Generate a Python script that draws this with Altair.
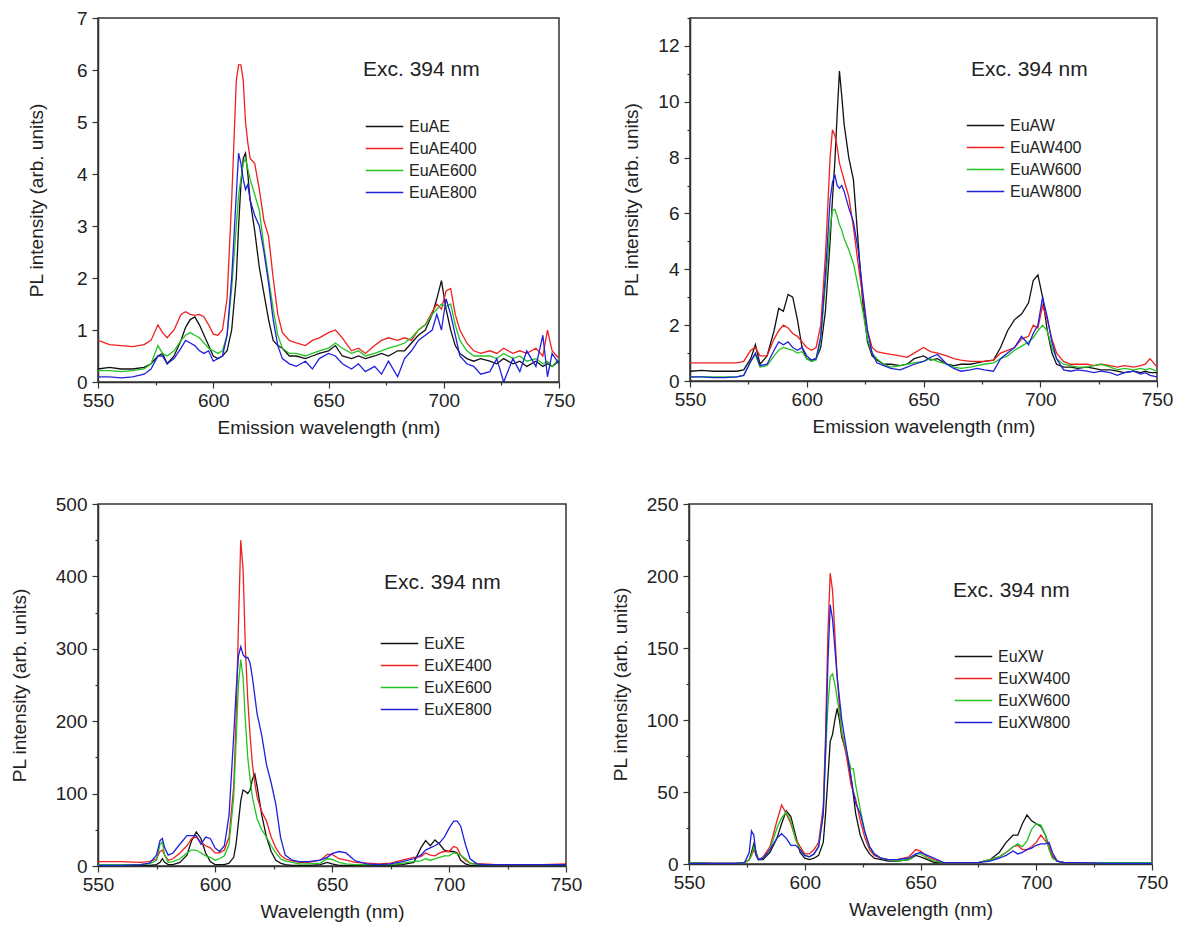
import altair as alt
import pandas as pd

# ---------------- data ----------------
wl_A = [550, 555, 560, 565, 570, 573, 576, 578, 580, 583, 586, 588, 590, 592, 594, 596, 598, 600,
        602, 604, 606, 608, 610, 611, 612, 613, 614, 615, 616, 618, 620, 622, 624, 626, 628, 630,
        633, 636, 640, 643, 646, 650, 653, 656, 660, 663, 666, 670, 673, 676, 680, 683, 686, 689,
        692, 695, 697, 699, 701, 703, 705, 707, 710, 713, 716, 720, 723, 726, 730, 733, 736, 740,
        743, 745, 747, 750]

EuAE = [0.25, 0.28, 0.25, 0.25, 0.28, 0.35, 0.5, 0.55, 0.35, 0.5, 0.8, 1.05, 1.2, 1.25, 1.1, 0.9, 0.7, 0.5,
        0.45, 0.5, 0.6, 1.0, 2.0, 3.0, 3.8, 4.3, 4.4, 4.0, 3.5, 2.9, 2.2, 1.7, 1.2, 0.8, 0.7, 0.65,
        0.5, 0.5, 0.45, 0.5, 0.55, 0.6, 0.7, 0.5, 0.45, 0.5, 0.45, 0.5, 0.55, 0.5, 0.6, 0.6, 0.75, 0.9,
        1.0, 1.3, 1.6, 1.95, 1.4, 1.0, 0.7, 0.55, 0.45, 0.4, 0.45, 0.4, 0.35, 0.45, 0.35, 0.4, 0.3, 0.4,
        0.3, 0.35, 0.3, 0.4]
EuAE400 = [0.8, 0.72, 0.7, 0.68, 0.72, 0.8, 1.1, 0.95, 0.85, 1.0, 1.3, 1.35, 1.3, 1.28, 1.3, 1.25, 1.1, 0.92,
           0.9, 1.0, 1.6, 3.5, 5.8, 6.1, 6.1, 5.8, 5.0, 4.6, 4.3, 4.2, 3.7, 3.1, 2.8, 2.0, 1.3, 0.95,
           0.8, 0.75, 0.7, 0.8, 0.85, 0.95, 1.0, 0.85, 0.6, 0.65, 0.55, 0.7, 0.8, 0.85, 0.8, 0.85, 0.8, 1.0,
           1.1, 1.35, 1.5, 1.4, 1.75, 1.8, 1.3, 1.0, 0.75, 0.6, 0.55, 0.6, 0.55, 0.65, 0.55, 0.6, 0.55, 0.65,
           0.5, 1.0, 0.6, 0.45]
EuAE600 = [0.22, 0.22, 0.2, 0.22, 0.25, 0.35, 0.7, 0.55, 0.5, 0.6, 0.8, 0.9, 0.95, 0.9, 0.85, 0.75, 0.65, 0.6,
           0.55, 0.6, 0.9, 1.8, 3.0, 3.6, 3.9, 4.2, 4.3, 4.1, 3.9, 3.6, 3.3, 2.6, 2.0, 1.4, 0.9, 0.65,
           0.55, 0.55, 0.5, 0.55, 0.6, 0.65, 0.75, 0.65, 0.55, 0.6, 0.5, 0.55, 0.6, 0.65, 0.7, 0.75, 0.85, 1.0,
           1.1, 1.3, 1.4, 1.5, 1.45, 1.5, 1.1, 0.8, 0.6, 0.5, 0.5, 0.5, 0.45, 0.55, 0.45, 0.5, 0.4, 0.45,
           0.35, 0.4, 0.3, 0.45]
EuAE800 = [0.1, 0.1, 0.08, 0.1, 0.15, 0.25, 0.5, 0.5, 0.35, 0.45, 0.65, 0.8, 0.75, 0.7, 0.6, 0.55, 0.6, 0.4,
           0.45, 0.5, 0.9, 2.0, 3.6, 4.4, 4.2, 3.9, 3.7, 3.8, 3.5, 3.2, 3.0, 2.5, 1.9, 1.2, 0.7, 0.45,
           0.35, 0.3, 0.4, 0.25, 0.45, 0.55, 0.5, 0.35, 0.25, 0.35, 0.2, 0.3, 0.15, 0.4, 0.1, 0.45, 0.6, 0.8,
           0.9, 1.0, 1.3, 1.0, 1.6, 1.3, 0.9, 0.5, 0.35, 0.3, 0.15, 0.2, 0.45, 0.0, 0.45, 0.2, 0.6, 0.3,
           0.9, 0.1, 0.55, 0.35]

EuAW = [0.35, 0.38, 0.35, 0.35, 0.35, 0.4, 0.8, 1.3, 0.6, 0.9, 1.8, 2.6, 2.5, 3.1, 3.0, 2.2, 1.2, 0.8,
        0.75, 0.8, 1.2, 2.5, 5.0, 6.5, 7.8, 9.5, 11.1, 10.2, 9.2, 8.0, 7.2, 5.0, 2.8, 1.4, 0.9, 0.75,
        0.6, 0.6, 0.55, 0.6, 0.8, 0.9, 0.75, 0.8, 0.6, 0.55, 0.6, 0.6, 0.65, 0.7, 0.75, 1.2, 1.8, 2.2,
        2.4, 2.8, 3.6, 3.8, 3.0, 1.8, 1.0, 0.6, 0.5, 0.5, 0.45, 0.5, 0.45, 0.4, 0.4, 0.35, 0.3, 0.35,
        0.3, 0.35, 0.3, 0.3]
EuAW400 = [0.65, 0.65, 0.65, 0.65, 0.65, 0.7, 1.1, 1.2, 0.9, 0.9, 1.5, 1.8, 2.0, 1.9, 1.7, 1.6, 1.4, 1.2,
           1.1, 1.2, 2.0, 4.5, 8.0, 9.0, 8.8, 8.4, 7.8, 7.5, 7.2, 6.6, 5.5, 4.2, 3.0, 1.8, 1.2, 1.05,
           1.0, 0.95, 0.9, 0.85, 1.0, 1.2, 1.05, 1.0, 0.9, 0.8, 0.75, 0.7, 0.7, 0.7, 0.75, 1.0, 1.1, 1.2,
           1.5, 1.6, 2.0, 1.9, 2.7, 2.2, 1.5, 1.0, 0.7, 0.6, 0.6, 0.6, 0.55, 0.6, 0.55, 0.5, 0.55, 0.5,
           0.55, 0.6, 0.8, 0.5]
EuAW600 = [0.15, 0.15, 0.15, 0.15, 0.15, 0.2, 0.7, 0.95, 0.5, 0.55, 0.9, 1.1, 1.2, 1.15, 1.1, 1.0, 1.05, 0.8,
           0.7, 0.75, 1.5, 3.5, 5.5, 6.1, 6.15, 5.9, 5.6, 5.4, 5.1, 4.7, 4.2, 3.4, 2.5, 1.5, 1.0, 0.8,
           0.6, 0.5, 0.55, 0.6, 0.65, 0.7, 0.8, 0.7, 0.6, 0.5, 0.45, 0.5, 0.55, 0.6, 0.65, 0.8, 0.9, 1.1,
           1.25, 1.4, 1.55, 1.8, 2.0, 1.8, 1.2, 0.8, 0.6, 0.55, 0.5, 0.5, 0.55, 0.6, 0.5, 0.4, 0.45, 0.4,
           0.45, 0.4, 0.45, 0.35]
EuAW800 = [0.15, 0.15, 0.12, 0.12, 0.15, 0.2, 0.7, 1.0, 0.55, 0.6, 1.1, 1.4, 1.3, 1.4, 1.2, 1.1, 1.2, 0.9,
           0.75, 0.8, 1.6, 3.8, 6.5, 7.1, 7.4, 7.0, 6.9, 7.0, 6.8, 6.2, 5.7, 4.7, 3.2, 1.8, 1.0, 0.65,
           0.55, 0.45, 0.4, 0.5, 0.6, 0.7, 0.85, 0.95, 0.6, 0.45, 0.35, 0.4, 0.45, 0.4, 0.35, 0.8, 1.0, 1.2,
           1.6, 1.3, 1.7, 2.0, 3.0, 2.3, 1.4, 0.8, 0.4, 0.35, 0.4, 0.35, 0.3, 0.35, 0.3, 0.2, 0.3, 0.35,
           0.25, 0.3, 0.2, 0.15]

wl_XE = [550, 560, 568, 572, 575, 576.5, 577.5, 578.5, 580, 582, 585, 588, 590, 592, 594, 596, 598, 600,
         602, 604, 606, 608, 609, 610, 611, 612, 613, 614, 615, 616, 617, 618, 620, 622, 624, 626, 628, 630,
         633, 636, 640, 645, 648, 650, 653, 656, 660, 665, 670, 675, 680, 685, 688, 690, 692, 694, 696, 698,
         700, 702, 703.5, 705, 707, 709, 712, 715, 720, 730, 740, 750]
EuXE = [1, 1, 1, 1, 2, 5, 10, 5, 2, 2, 5, 15, 35, 47, 38, 18, 6, 2,
        2, 2, 4, 12, 30, 60, 90, 105, 103, 100, 105, 120, 127, 110, 70, 40, 20, 8, 4, 2,
        1, 1, 1, 2, 5, 3, 1, 1, 1, 1, 1, 1, 2, 5, 25, 35, 28, 36, 30, 22,
        20, 20, 18, 8, 3, 1, 1, 1, 1, 1, 1, 1]
EuXE400 = [6, 6, 5, 6, 10, 20, 22, 15, 8, 10, 18, 28, 38, 40, 33, 28, 25, 18,
           18, 22, 40, 110, 200, 330, 450, 410, 300, 230, 180, 140, 115, 95, 75, 62, 40, 25, 15, 10,
           7, 5, 5, 8, 16, 16, 10, 8, 5, 4, 3, 4, 8, 12, 13, 18, 15, 14, 18, 20,
           20, 27, 25, 15, 8, 4, 3, 3, 2, 2, 2, 3]
EuXE600 = [2, 2, 2, 3, 8, 30, 33, 15, 5, 6, 10, 18, 22, 22, 18, 14, 12, 8,
           10, 14, 30, 95, 170, 250, 285, 260, 200, 150, 120, 95, 80, 65, 50, 40, 28, 18, 10, 7,
           5, 3, 3, 4, 10, 9, 5, 3, 2, 2, 2, 2, 4, 6, 7, 10, 8, 10, 12, 14,
           14, 18, 17, 15, 10, 4, 2, 2, 2, 2, 2, 2]
EuXE800 = [1, 1, 2, 4, 15, 35, 38, 25, 15, 18, 30, 42, 42, 42, 30, 40, 38, 25,
           20, 28, 70, 180, 240, 290, 303, 292, 288, 288, 280, 260, 235, 210, 180, 140, 115, 85, 40, 15,
           8, 6, 6, 8, 12, 17, 20, 18, 7, 3, 2, 3, 6, 10, 15, 22, 25, 28, 32, 40,
           52, 62, 62, 55, 30, 10, 3, 2, 2, 2, 2, 2]

wl_XW = [550, 560, 570, 574, 576, 577, 578, 579, 580, 582, 585, 588, 590, 592, 594, 596, 598, 600,
         602, 604, 606, 608, 609, 610, 611, 612, 613, 614, 615, 616, 618, 620, 621, 622, 624, 626, 628, 630,
         633, 636, 640, 645, 648, 650, 653, 656, 660, 665, 670, 675, 680, 684, 687, 690, 692, 694, 696, 698,
         700, 702, 704, 705.5, 707, 709, 712, 715, 720, 730, 740, 750]
EuXW = [1, 0.5, 0.5, 1, 3, 8, 14, 8, 3, 3, 8, 18, 28, 37, 33, 20, 8, 4,
        3, 4, 6, 15, 35, 60, 85, 90, 100, 108, 100, 88, 78, 60, 48, 35, 20, 12, 7, 4,
        3, 2, 2, 3, 6, 5, 3, 1, 1, 1, 1, 1, 3, 8, 15, 20, 20, 28, 34, 30,
        28, 26, 20, 12, 5, 2, 1, 1, 1, 1, 1, 1]
EuXW400 = [1, 0.5, 0.5, 1, 3, 6, 10, 6, 3, 5, 12, 30, 41, 35, 28, 18, 12, 7,
           7, 10, 15, 40, 90, 160, 202, 190, 160, 130, 110, 90, 75, 55, 50, 45, 30, 18, 10, 6,
           4, 3, 3, 5, 10, 9, 5, 3, 1, 1, 1, 1, 3, 5, 8, 12, 13, 10, 10, 12,
           15, 20, 16, 12, 6, 2, 1, 1, 1, 1, 1, 1]
EuXW600 = [1, 0.5, 0.5, 1, 3, 6, 12, 7, 3, 4, 10, 25, 32, 36, 30, 17, 10, 6,
           5, 7, 12, 35, 75, 110, 130, 132, 125, 115, 105, 92, 78, 66, 66, 55, 38, 22, 12, 7,
           4, 3, 2, 3, 7, 7, 4, 2, 1, 1, 1, 1, 3, 5, 8, 12, 14, 12, 16, 24,
           28, 27, 20, 10, 4, 2, 1, 1, 1, 1, 1, 1]
EuXW800 = [0.5, 0.5, 0.5, 1, 8, 23, 20, 6, 3, 4, 10, 18, 21, 18, 13, 13, 10, 6,
           5, 7, 12, 35, 80, 140, 180, 170, 150, 130, 115, 100, 80, 60, 50, 42, 35, 22, 12, 7,
           4, 3, 3, 4, 7, 8, 6, 4, 1, 1, 1, 1, 2, 4, 6, 9, 7, 8, 10, 11,
           13, 14, 14, 15, 8, 2, 1, 1, 1, 0.5, 0.5, 0.5]

COLORS = ["#111111", "#ee2020", "#22c422", "#2020dd"]
FONT = "Liberation Sans"
x_ticks = [550, 575, 600, 625, 650, 675, 700, 725, 750]


def long_df(wl, series):
    rows = []
    for name, vals in series:
        for w, v in zip(wl, vals):
            rows.append({"wl": w, "val": v, "s": name})
    return pd.DataFrame(rows)


def panel(wl, series, ymax, ystep, ymajor, xtitle, w, h, exc_xy, leg_xy, ytp, rowpad):
    names = [n for n, _ in series]
    df = long_df(wl, series)
    yvals = [round(i * ystep, 3) for i in range(int(round(ymax / ystep)) + 1)]
    major_y = f"abs(datum.value / {ymajor} - round(datum.value / {ymajor})) < 0.001"
    xaxis = alt.Axis(
        values=x_ticks, title=xtitle,
        labelExpr="datum.value % 50 === 0 ? datum.label : ''",
        tickSize={"condition": {"test": "datum.value % 50 === 0", "value": 6}, "value": 3},
    )
    yaxis = alt.Axis(
        values=yvals, title="PL intensity (arb. units)", format="d", titlePadding=ytp,
        labelExpr=f"{major_y} ? format(datum.value, 'd') : ''",
        tickSize={"condition": {"test": major_y, "value": 6}, "value": 3},
    )
    lines = alt.Chart(df).mark_line(strokeWidth=1.3, clip=True).encode(
        x=alt.X("wl:Q", scale=alt.Scale(domain=[550, 750], nice=False, zero=False), axis=xaxis),
        y=alt.Y("val:Q", scale=alt.Scale(domain=[0, ymax], nice=False), axis=yaxis),
        color=alt.Color("s:N", scale=alt.Scale(domain=names, range=COLORS),
                        legend=alt.Legend(orient="none", legendX=leg_xy[0], legendY=leg_xy[1], title=None,
                                          symbolType="M-2.5,0H2.5", symbolSize=225, symbolStrokeWidth=1.6,
                                          labelFont=FONT, labelFontSize=16, labelColor="#222",
                                          rowPadding=rowpad, labelOffset=16)),
        order=alt.Order("wl:Q"),
    )
    txt = alt.Chart(alt.Data(values=[{}])).mark_text(
        text="Exc. 394 nm", font=FONT, fontSize=21, align="left", baseline="middle", color="#222"
    ).encode(x=alt.value(exc_xy[0]), y=alt.value(exc_xy[1]))
    return alt.layer(lines, txt).properties(width=w, height=h)


p1 = panel(wl_A, [("EuAE", EuAE), ("EuAE400", EuAE400), ("EuAE600", EuAE600), ("EuAE800", EuAE800)],
           7, 0.5, 1, "Emission wavelength (nm)", 461, 364, (265, 52), (278, 100), 30, 5)
p2 = panel(wl_A, [("EuAW", EuAW), ("EuAW400", EuAW400), ("EuAW600", EuAW600), ("EuAW800", EuAW800)],
           13, 1, 2, "Emission wavelength (nm)", 467, 363, (281, 52), (287, 99), 16, 5)
p3 = panel(wl_XE, [("EuXE", EuXE), ("EuXE400", EuXE400), ("EuXE600", EuXE600), ("EuXE800", EuXE800)],
           500, 50, 100, "Wavelength (nm)", 468, 362, (286, 79), (293, 131), 26, 5)
p4 = panel(wl_XW, [("EuXW", EuXW), ("EuXW400", EuXW400), ("EuXW600", EuXW600), ("EuXW800", EuXW800)],
           250, 25, 50, "Wavelength (nm)", 463, 360, (264, 87), (276, 144), 16, 5)

row1 = alt.hconcat(p1, p2, spacing=46).resolve_scale(color="independent")
row2 = alt.hconcat(p3, p4, spacing=27).resolve_scale(color="independent")

chart = alt.vconcat(row1, row2, spacing=56).resolve_scale(color="independent").properties(
    padding={"left": 1, "top": 0, "right": 0, "bottom": 0}
).configure_view(
    stroke="#333", strokeWidth=1.5
).configure_axis(
    grid=False, labelFont=FONT, titleFont=FONT, labelFontSize=19, titleFontSize=19,
    titleFontWeight="normal", labelColor="#222", titleColor="#222", domainColor="#333",
    tickColor="#333", domainWidth=1.5, tickWidth=1.2, labelPadding=3, titlePadding=8,
    labelFlush=False, labelOverlap=False
).configure_axisY(labelPadding=5)

chart.save("out.html", embed_options={"renderer": "svg", "actions": False})
